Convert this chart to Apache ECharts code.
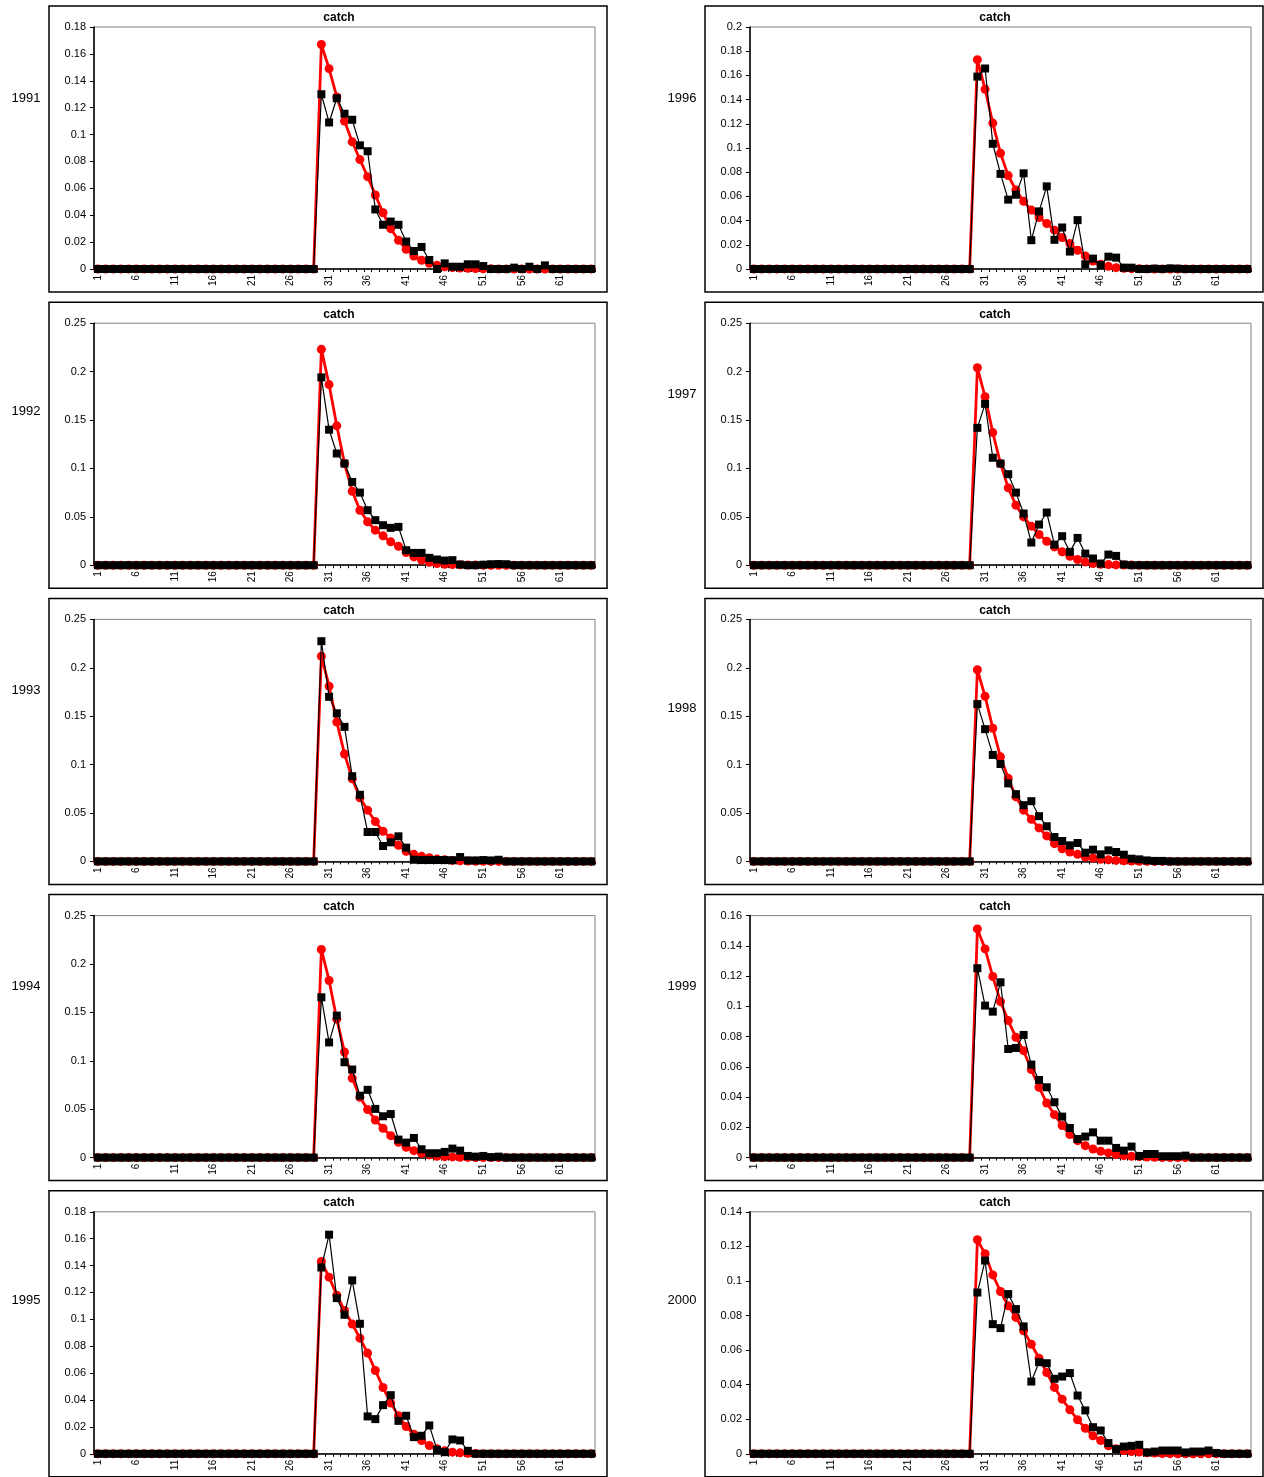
<!DOCTYPE html>
<html>
<head>
<meta charset="utf-8">
<script src="https://cdn.jsdelivr.net/npm/echarts@6/dist/echarts.min.js"></script>
<style>
  html, body { margin: 0; padding: 0; background: #fff; }
  #main { width: 1264px; height: 1477px; }
</style>
</head>
<body>
<div id="main"></div>
<script>
// length classes 1..65
var categories = ['1','2','3','4','5','6','7','8','9','10','11','12','13','14','15','16','17','18','19','20',
  '21','22','23','24','25','26','27','28','29','30','31','32','33','34','35','36','37','38','39','40',
  '41','42','43','44','45','46','47','48','49','50','51','52','53','54','55','56','57','58','59','60',
  '61','62','63','64','65'];

var years = ['1991', '1992', '1993', '1994', '1995', '1996', '1997', '1998', '1999', '2000'];
var yMax = [0.18, 0.25, 0.25, 0.25, 0.18, 0.2, 0.25, 0.25, 0.16, 0.14];
var yStep = [0.02, 0.05, 0.05, 0.05, 0.02, 0.02, 0.05, 0.05, 0.02, 0.02];

// observed catch proportions (black squares)
var obs1991 = [0,0,0,0,0,0,0,0,0,0,0,0,0,0,0,0,0,0,0,0,0,0,0,0,0,0,0,0,0,
  0.130,0.109,0.127,0.1155,0.111,0.092,0.0876,0.0443,0.0329,0.0353,0.0329,0.0204,0.0134,0.0164,0.0067,0,
  0.0042,0.0017,0.0017,0.0035,0.0035,0.0022,0,0,0,0.001,0,0.0017,0,0.0027,0,0,0,0,0,0];
var obs1992 = [0,0,0,0,0,0,0,0,0,0,0,0,0,0,0,0,0,0,0,0,0,0,0,0,0,0,0,0,0,
  0.194,0.140,0.1154,0.105,0.086,0.075,0.0568,0.0465,0.0413,0.0386,0.0396,0.0155,0.0127,0.0127,0.0076,0.0059,
  0.0048,0.0052,0.0007,0,0,0.0005,0.001,0.0012,0.001,0,0,0,0,0,0,0,0,0,0,0];
var obs1993 = [0,0,0,0,0,0,0,0,0,0,0,0,0,0,0,0,0,0,0,0,0,0,0,0,0,0,0,0,0,
  0.2275,0.170,0.153,0.139,0.088,0.0688,0.0304,0.0304,0.0159,0.0197,0.0259,0.0142,0.0017,0.0014,0.0014,0.0014,
  0.0014,0.0012,0.0045,0.001,0.001,0.0014,0.001,0.0017,0,0,0,0,0,0,0,0,0,0,0,0];
var obs1994 = [0,0,0,0,0,0,0,0,0,0,0,0,0,0,0,0,0,0,0,0,0,0,0,0,0,0,0,0,0,
  0.1656,0.119,0.1467,0.0985,0.091,0.064,0.070,0.0503,0.0427,0.045,0.0186,0.0155,0.0203,0.0086,0.0045,0.0045,
  0.0059,0.0093,0.0072,0.0017,0.001,0.0017,0.0005,0.001,0,0,0,0,0,0,0,0,0,0,0,0];
var obs1995 = [0,0,0,0,0,0,0,0,0,0,0,0,0,0,0,0,0,0,0,0,0,0,0,0,0,0,0,0,0,
  0.1386,0.163,0.1158,0.1034,0.129,0.0967,0.0278,0.0258,0.0362,0.0436,0.0245,0.0283,0.0124,0.0134,0.0211,0.003,
  0.0012,0.0107,0.0099,0.0022,0,0,0,0,0,0,0,0,0,0,0,0,0,0,0,0];
var obs1996 = [0,0,0,0,0,0,0,0,0,0,0,0,0,0,0,0,0,0,0,0,0,0,0,0,0,0,0,0,0,
  0.159,0.1657,0.1035,0.0786,0.0573,0.0614,0.0791,0.0238,0.0476,0.0683,0.0241,0.0343,0.0144,0.0404,0.0039,0.0086,
  0.0033,0.0102,0.0094,0.0011,0.0011,0,0,0.0003,0,0.0005,0.0003,0,0,0,0,0,0,0,0,0];
var obs1997 = [0,0,0,0,0,0,0,0,0,0,0,0,0,0,0,0,0,0,0,0,0,0,0,0,0,0,0,0,0,
  0.1419,0.1667,0.111,0.105,0.094,0.075,0.0534,0.0234,0.042,0.0544,0.0213,0.030,0.0138,0.0282,0.012,0.0069,
  0.0017,0.011,0.0096,0.0007,0,0,0,0,0,0,0,0,0,0,0,0,0,0,0,0];
var obs1998 = [0,0,0,0,0,0,0,0,0,0,0,0,0,0,0,0,0,0,0,0,0,0,0,0,0,0,0,0,0,
  0.1625,0.1366,0.110,0.1006,0.0806,0.0695,0.0581,0.0622,0.0467,0.0363,0.0252,0.0211,0.0166,0.019,0.009,0.0121,
  0.0073,0.0114,0.0097,0.0069,0.0028,0.0021,0.001,0.0005,0.0005,0,0,0,0,0,0,0,0,0,0,0];
var obs1999 = [0,0,0,0,0,0,0,0,0,0,0,0,0,0,0,0,0,0,0,0,0,0,0,0,0,0,0,0,0,
  0.1252,0.1005,0.0965,0.1159,0.0718,0.0725,0.0811,0.0615,0.0513,0.0465,0.0366,0.0271,0.0196,0.0123,0.0139,0.0167,
  0.0112,0.0112,0.0064,0.0046,0.0073,0.0011,0.0024,0.0024,0.0009,0.0009,0.0009,0.0013,0,0,0,0,0,0,0,0];
var obs2000 = [0,0,0,0,0,0,0,0,0,0,0,0,0,0,0,0,0,0,0,0,0,0,0,0,0,0,0,0,0,
  0.0933,0.1118,0.075,0.0727,0.0924,0.0837,0.0737,0.0418,0.053,0.0524,0.0434,0.0447,0.0467,0.0337,0.0251,0.0154,
  0.0135,0.0062,0.0027,0.0042,0.0046,0.0052,0.0008,0.0013,0.0019,0.0019,0.0019,0.0008,0.0013,0.0013,0.0019,0.0005,0,0,0,0];

// model fitted proportions (red circles)
var fit1991 = [0,0,0,0,0,0,0,0,0,0,0,0,0,0,0,0,0,0,0,0,0,0,0,0,0,0,0,0,0,
  0.167,0.149,0.128,0.110,0.0946,0.0814,0.0687,0.055,0.0418,0.030,0.0214,0.0147,0.0097,0.0065,0.0042,0.0027,
  0.0017,0.001,0.0007,0.0005,0.0003,0.0002,0.0001,0,0,0,0,0,0,0,0,0,0,0,0,0];
var fit1992 = [0,0,0,0,0,0,0,0,0,0,0,0,0,0,0,0,0,0,0,0,0,0,0,0,0,0,0,0,0,
  0.223,0.1866,0.144,0.105,0.0764,0.0568,0.0448,0.0362,0.0303,0.0241,0.0196,0.013,0.0086,0.0052,0.003,0.0017,
  0.001,0.0006,0.0004,0.0002,0.0001,0,0,0,0,0,0,0,0,0,0,0,0,0,0,0];
var fit1993 = [0,0,0,0,0,0,0,0,0,0,0,0,0,0,0,0,0,0,0,0,0,0,0,0,0,0,0,0,0,
  0.212,0.181,0.144,0.111,0.0854,0.0657,0.0529,0.0411,0.0311,0.0242,0.0166,0.0104,0.0073,0.0052,0.0038,0.0024,
  0.0017,0.001,0.0006,0.0004,0.0002,0.0001,0,0,0,0,0,0,0,0,0,0,0,0,0,0];
var fit1994 = [0,0,0,0,0,0,0,0,0,0,0,0,0,0,0,0,0,0,0,0,0,0,0,0,0,0,0,0,0,
  0.215,0.183,0.143,0.109,0.082,0.0623,0.0496,0.0389,0.0303,0.0227,0.0158,0.0107,0.0072,0.0045,0.0028,0.0014,
  0.001,0.0007,0.0004,0.0002,0.0001,0,0,0,0,0,0,0,0,0,0,0,0,0,0,0];
var fit1995 = [0,0,0,0,0,0,0,0,0,0,0,0,0,0,0,0,0,0,0,0,0,0,0,0,0,0,0,0,0,
  0.143,0.1314,0.118,0.1066,0.0965,0.086,0.0749,0.062,0.0493,0.0377,0.0283,0.0203,0.0146,0.0099,0.0062,0.0037,
  0.0022,0.0012,0.0007,0.0004,0.0002,0.0001,0,0,0,0,0,0,0,0,0,0,0,0,0,0];
var fit1996 = [0,0,0,0,0,0,0,0,0,0,0,0,0,0,0,0,0,0,0,0,0,0,0,0,0,0,0,0,0,
  0.173,0.1486,0.1206,0.0957,0.0772,0.0653,0.0559,0.0487,0.0426,0.0376,0.0321,0.026,0.021,0.0155,0.0108,0.0066,
  0.0039,0.0022,0.0011,0.0006,0.0003,0.0002,0.0001,0,0,0,0,0,0,0,0,0,0,0,0,0];
var fit1997 = [0,0,0,0,0,0,0,0,0,0,0,0,0,0,0,0,0,0,0,0,0,0,0,0,0,0,0,0,0,
  0.204,0.174,0.137,0.105,0.0799,0.062,0.0499,0.0403,0.0317,0.0248,0.0189,0.0138,0.0093,0.0059,0.0034,0.0017,
  0.001,0.0006,0.0003,0.0002,0.0001,0,0,0,0,0,0,0,0,0,0,0,0,0,0,0];
var fit1998 = [0,0,0,0,0,0,0,0,0,0,0,0,0,0,0,0,0,0,0,0,0,0,0,0,0,0,0,0,0,
  0.198,0.1705,0.1376,0.108,0.0858,0.0667,0.0529,0.0436,0.0346,0.0263,0.0183,0.0131,0.0097,0.0073,0.0045,0.0035,
  0.0021,0.0017,0.001,0.0007,0.0004,0.0002,0.0001,0,0,0,0,0,0,0,0,0,0,0,0,0];
var fit1999 = [0,0,0,0,0,0,0,0,0,0,0,0,0,0,0,0,0,0,0,0,0,0,0,0,0,0,0,0,0,
  0.1512,0.138,0.1197,0.1031,0.0906,0.0796,0.0707,0.0582,0.0465,0.0361,0.0284,0.0212,0.0152,0.0112,0.0079,0.0057,
  0.0042,0.0031,0.002,0.0013,0.0009,0.0006,0.0004,0.0002,0.0001,0,0,0,0,0,0,0,0,0,0,0];
var fit2000 = [0,0,0,0,0,0,0,0,0,0,0,0,0,0,0,0,0,0,0,0,0,0,0,0,0,0,0,0,0,
  0.1238,0.1157,0.1035,0.0939,0.0856,0.0789,0.0712,0.0634,0.0553,0.047,0.0384,0.0316,0.0255,0.0197,0.0148,0.0104,
  0.0077,0.0046,0.0029,0.0019,0.0013,0.001,0.0006,0.0004,0.0002,0.0001,0,0,0,0,0,0,0,0,0,0];

var obsData = [obs1991, obs1992, obs1993, obs1994, obs1995, obs1996, obs1997, obs1998, obs1999, obs2000];
var fitData = [fit1991, fit1992, fit1993, fit1994, fit1995, fit1996, fit1997, fit1998, fit1999, fit2000];

// where the year labels sit (centre y)
var yearY = [98, 411, 690, 986, 1300, 98, 394, 708, 986, 1300];

var FONT = 'Liberation Sans, Arial, sans-serif';

var grids = [], xAxes = [], yAxes = [], series = [], titles = [], graphics = [];

for (var i = 0; i < 10; i++) {
  var col = i < 5 ? 0 : 1;
  var row = i % 5;
  var boxLeft = col ? 705 : 49;
  var boxTop = 6 + row * 296.2;

  // panel frame
  graphics.push({
    type: 'rect',
    shape: { x: boxLeft, y: boxTop, width: 558, height: 286 },
    style: { fill: '#fff', stroke: '#000', lineWidth: 1.5 },
    z: -10
  });
  // year label
  graphics.push({
    type: 'text',
    x: col ? 682 : 26,
    y: yearY[i],
    style: { text: years[i], font: '13px ' + FONT, fill: '#000', align: 'center', verticalAlign: 'middle' }
  });

  titles.push({
    text: 'catch',
    left: boxLeft + 290,
    top: boxTop + 6,
    textAlign: 'center',
    padding: 0,
    textStyle: { fontFamily: FONT, fontSize: 12, fontWeight: 'bold', color: '#000' }
  });

  grids.push({
    left: boxLeft + 45,
    top: boxTop + 21,
    width: 501,
    height: 242,
    show: true,
    borderColor: '#808080',
    borderWidth: 1,
    backgroundColor: '#fff',
    z: 0
  });

  xAxes.push({
    type: 'category',
    gridIndex: i,
    data: categories,
    boundaryGap: true,
    axisLine: { lineStyle: { color: '#000', width: 1.5 } },
    axisTick: { show: true, interval: 0, length: 3, lineStyle: { color: '#000' } },
    axisLabel: { interval: 4, rotate: 90, fontSize: 10, fontFamily: FONT, color: '#000', margin: 6 },
    splitLine: { show: false }
  });

  yAxes.push({
    type: 'value',
    gridIndex: i,
    min: 0,
    max: yMax[i],
    interval: yStep[i],
    axisLine: { show: true, lineStyle: { color: '#000', width: 1.5 } },
    axisTick: { show: true, length: 4, lineStyle: { color: '#000' } },
    axisLabel: { fontSize: 11, fontFamily: FONT, color: '#000', margin: 8 },
    splitLine: { show: false }
  });

  series.push({
    name: 'fit' + years[i],
    type: 'line',
    xAxisIndex: i,
    yAxisIndex: i,
    data: fitData[i],
    symbol: 'circle',
    symbolSize: 9,
    showAllSymbol: true,
    lineStyle: { color: '#ff0000', width: 2.8 },
    itemStyle: { color: '#ff0000' },
    z: 3
  });
  series.push({
    name: 'obs' + years[i],
    type: 'line',
    xAxisIndex: i,
    yAxisIndex: i,
    data: obsData[i],
    symbol: 'rect',
    symbolSize: 8,
    showAllSymbol: true,
    lineStyle: { color: '#000', width: 1.2 },
    itemStyle: { color: '#000' },
    z: 4
  });
}

var chart = echarts.init(document.getElementById('main'), null, { renderer: 'canvas' });
chart.setOption({
  backgroundColor: '#fff',
  animation: false,
  title: titles,
  grid: grids,
  xAxis: xAxes,
  yAxis: yAxes,
  series: series,
  graphic: graphics
});
</script>
</body>
</html>
